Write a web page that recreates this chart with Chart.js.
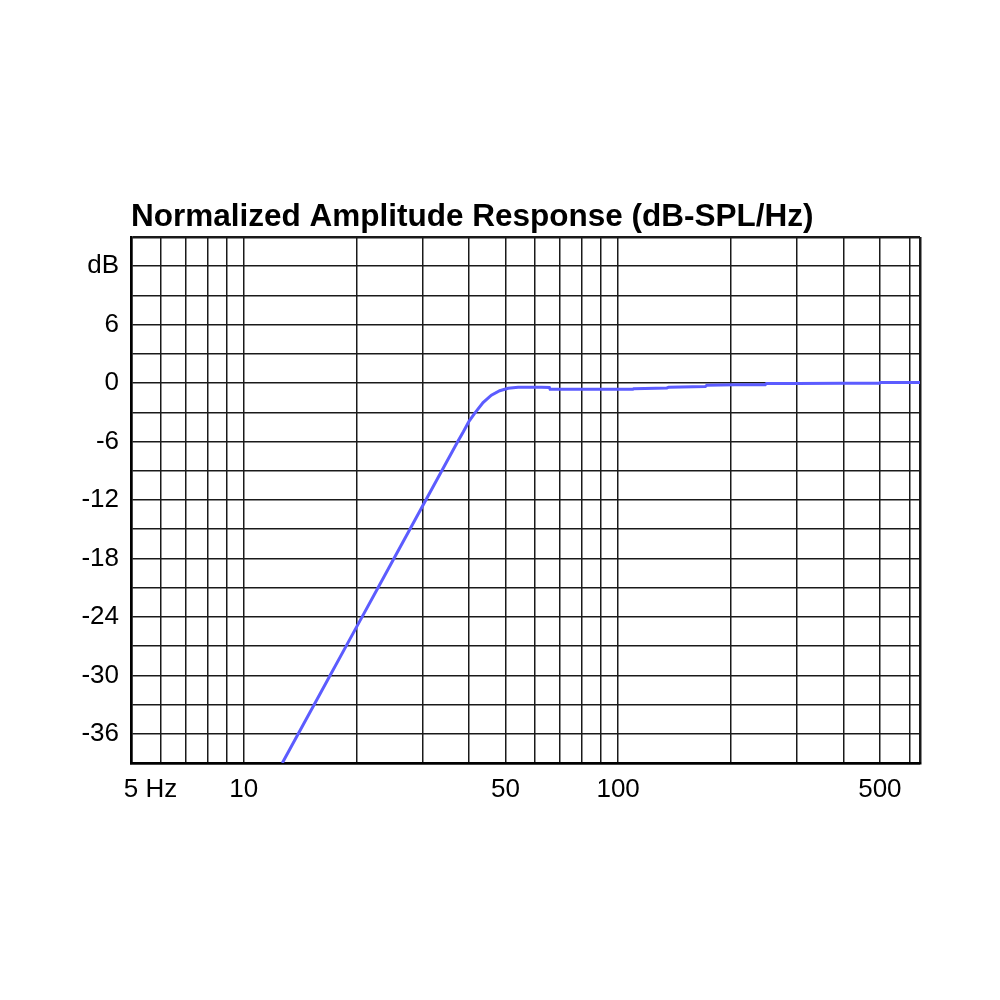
<!DOCTYPE html>
<html>
<head>
<meta charset="utf-8">
<style>
  html, body { margin: 0; padding: 0; background: #ffffff; }
  #wrap { position: absolute; left: 0; top: 0; width: 1000px; height: 1000px; }
</style>
<script src="https://cdn.jsdelivr.net/npm/chart.js@4.4.1/dist/chart.umd.min.js"></script>
</head>
<body>
<div id="wrap"><canvas id="c" width="1000" height="1000"></canvas></div>
<script>
// Data
const freqHz = [12.68, 13.985, 15.43, 17.02, 18.77, 20.71, 22.84, 25.19, 27.79, 30.65, 33.81, 37.30, 38.6, 40.0, 41.37, 43.57, 45.86, 48.27, 50.84, 54.07, 62.4, 65.5, 65.8, 80, 100, 109.5, 110, 135, 136.5, 171, 172.5, 205, 247, 249, 300, 400, 499, 501, 640];
const levelDb = [-39, -36, -33, -30, -27, -24, -21, -18, -15, -12, -9, -6, -5.0, -3.9, -3.1, -2.0, -1.24, -0.78, -0.53, -0.42, -0.42, -0.45, -0.62, -0.64, -0.63, -0.62, -0.57, -0.5, -0.42, -0.35, -0.22, -0.18, -0.16, -0.03, -0.03, -0.02, -0.01, 0.06, 0.06];

const xGridValues = [5, 6, 7, 8, 9, 10, 20, 30, 40, 50, 60, 70, 80, 90, 100, 200, 300, 400, 500, 600, 640];
const xTickLabels = { 5: '\u2002\u2002\u20025 Hz', 10: '10', 50: '50', 100: '100', 500: '500' };
const yTickLabels = { 12: 'dB', 6: '6', 0: '0', '-6': '-6', '-12': '-12', '-18': '-18', '-24': '-24', '-30': '-30', '-36': '-36' };
const titleText = 'Normalized Amplitude Response (dB-SPL/Hz)';

const FONT = '"Liberation Sans", Arial, Helvetica, sans-serif';
const points = freqHz.map((f, i) => ({ x: f, y: levelDb[i] }));

new Chart(document.getElementById('c'), {
  type: 'line',
  data: {
    datasets: [{
      data: points,
      borderColor: '#5c5cff',
      borderWidth: 3,
      pointRadius: 0,
      tension: 0,
      fill: false
    }]
  },
  options: {
    responsive: false,
    animation: false,
    devicePixelRatio: 1,
    layout: { padding: { top: 198, left: 0, right: 80, bottom: 177 } },
    plugins: {
      legend: { display: false },
      tooltip: { enabled: false },
      title: {
        display: true,
        text: titleText,
        align: 'start',
        fullSize: false,
        color: '#000',
        font: { family: FONT, size: 31.5, weight: 'bold' },
        padding: { top: 0, bottom: 1.2 }
      }
    },
    scales: {
      x: {
        type: 'logarithmic',
        min: 5,
        max: 640,
        afterBuildTicks: (scale) => { scale.ticks = xGridValues.map(v => ({ value: v })); },
        afterFit: (scale) => { scale.height = 60; },
        ticks: {
          autoSkip: false,
          maxRotation: 0,
          minRotation: 0,
          padding: 11,
          color: '#000',
          font: { family: FONT, size: 26 },
          callback: (v) => xTickLabels[v] !== undefined ? xTickLabels[v] : ''
        },
        grid: {
          drawTicks: false,
          color: '#1a1a1a',
          lineWidth: (ctx) => (ctx.tick && (ctx.tick.value === 640 || ctx.tick.value === 5)) ? 2.5 : 1.5
        },
        border: { display: true, color: '#000', width: 2.5 }
      },
      y: {
        type: 'linear',
        min: -39,
        max: 15,
        afterBuildTicks: (scale) => {
          const t = [];
          for (let v = -39; v <= 15; v += 3) t.push({ value: v });
          scale.ticks = t;
        },
        afterFit: (scale) => { scale.width = 131; },
        ticks: {
          autoSkip: false,
          padding: 12,
          color: '#000',
          font: { family: FONT, size: 26 },
          callback: (v) => yTickLabels[v] !== undefined ? yTickLabels[v] : ''
        },
        grid: {
          drawTicks: false,
          color: '#1a1a1a',
          lineWidth: (ctx) => (ctx.tick && (ctx.tick.value === 15 || ctx.tick.value === -39)) ? 2.5 : 1.5
        },
        border: { display: true, color: '#000', width: 2.5 }
      }
    }
  }
});
</script>
</body>
</html>
